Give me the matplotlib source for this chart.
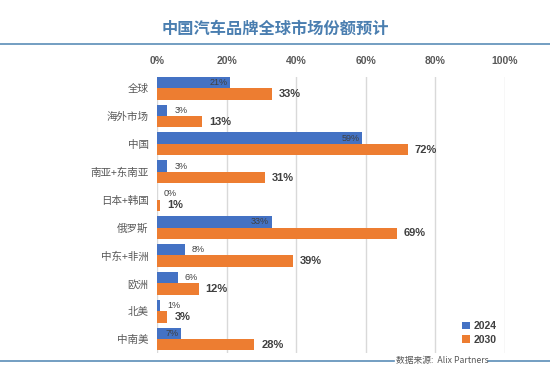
import matplotlib
matplotlib.use("Agg")
import matplotlib.pyplot as plt
from matplotlib.lines import Line2D

plt.rcParams['font.family'] = ['Liberation Sans', 'Noto Sans CJK SC', 'DejaVu Sans']
cjk = ['Noto Sans CJK SC', 'DejaVu Sans']

categories = ['全球', '海外市场', '中国', '南亚+东南亚', '日本+韩国', '俄罗斯', '中东+非洲', '欧洲', '北美', '中南美']
v2024 = [21, 3, 59, 3, 0, 33, 8, 6, 1, 7]
v2030 = [33, 13, 72, 31, 1, 69, 39, 12, 3, 28]
inside_2024 = [True, False, True, False, False, True, False, False, False, True]
xticks = [0, 20, 40, 60, 80, 100]
title = '中国汽车品牌全球市场份额预计'
source = '数据来源:  Alix Partners'

blue = '#4472C4'
orange = '#ED7D31'

fig = plt.figure(figsize=(5.5, 3.78), dpi=100)
ax = fig.add_axes([157/550, 1-353/378, (505-157)/550, (353-77)/378])

h = 0.41
y = list(range(len(categories)))
ax.barh([i - h/2 for i in y], v2024, height=h, color=blue, label='2024', zorder=3)
ax.barh([i + h/2 for i in y], v2030, height=h, color=orange, label='2030', zorder=3)

for i, (a, b, ins) in enumerate(zip(v2024, v2030, inside_2024)):
    if ins:
        ax.annotate(f'{a}%', (a, i - h/2), xytext=(-2, 0), textcoords='offset points',
                    ha='right', va='center', fontsize=6.5, color='#404040', zorder=4)
    else:
        ax.annotate(f'{a}%', (a, i - h/2), xytext=(5, 0), textcoords='offset points',
                    ha='left', va='center', fontsize=6.5, color='#404040', zorder=4)
    ax.annotate(f'{b}%', (b, i + h/2), xytext=(5, 0), textcoords='offset points',
                ha='left', va='center', fontsize=8, fontweight='bold', color='#404040', zorder=4)

ax.set_xlim(0, 100)
ax.set_ylim(9.5, -0.4)
ax.set_yticks(y)
ax.set_yticklabels(categories, fontsize=7.6, color='#595959', family=cjk)
ax.xaxis.tick_top()
ax.set_xticks(xticks)
ax.set_xticklabels([f'{t}%' for t in xticks], fontsize=7.5, fontweight='bold', color='#595959')
ax.tick_params(axis='x', length=0, pad=8)
ax.tick_params(axis='y', length=0, pad=6)
for s in ax.spines.values():
    s.set_visible(False)
ax.grid(axis='x', color='#d9d9d9', linewidth=1, zorder=0)
ax.set_axisbelow(True)

leg = ax.legend(loc='lower left', bbox_to_anchor=(457/550, 1-345/378 - 5/378), bbox_transform=fig.transFigure,
                frameon=False, handlelength=0.7, handleheight=0.7, handletextpad=0.4,
                labelspacing=0.35, borderpad=0, prop={'weight': 'bold', 'size': 7.5})
for t in leg.get_texts():
    t.set_color('#404040')

fig.text(0.5, 1-29/378, title, ha='center', va='center', fontsize=11.7, fontweight='bold',
         color='#4a7eb0', family=cjk)
fig.add_artist(Line2D([0, 1], [1-44/378, 1-44/378], transform=fig.transFigure, color='#5b8db8', linewidth=1.2))

fig.text(442/550, 1-361/378, source, ha='center', va='center', fontsize=6.3, style='italic',
         color='#595959', family=cjk)
fig.add_artist(Line2D([0, 394/550], [1-361/378, 1-361/378], transform=fig.transFigure, color='#5b8db8', linewidth=1.2))
fig.add_artist(Line2D([488/550, 1], [1-361/378, 1-361/378], transform=fig.transFigure, color='#5b8db8', linewidth=1.2))

fig.savefig('out.png', dpi=100)
